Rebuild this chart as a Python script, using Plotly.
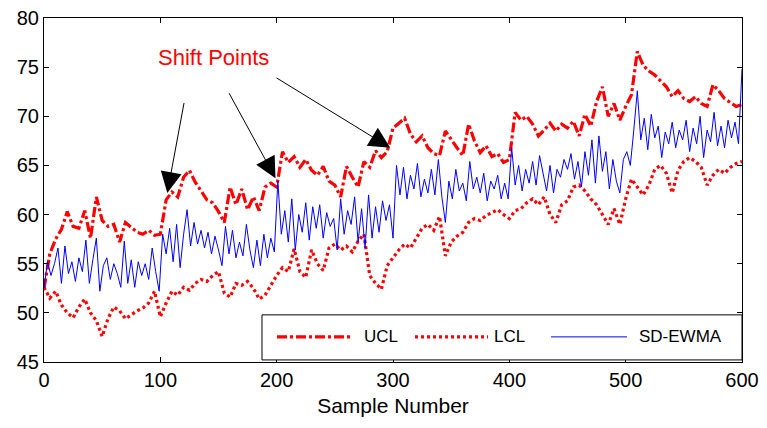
import plotly.graph_objects as go

# ---------------- data ----------------
ucl_step = 5
ucl = [
    52.5, 56.0, 57.5, 58.5, 60.3, 58.8, 58.6, 60.4, 57.6, 61.8,
    59.4, 58.8, 59.0, 57.2, 59.2, 58.7, 58.2, 58.0, 58.4, 57.9,
    58.0, 61.5, 62.3, 61.8, 63.8, 64.5, 63.3, 62.4, 61.5, 61.2,
    60.3, 59.2, 62.8, 61.0, 62.6, 60.5, 61.8, 60.4, 62.8, 63.2,
    62.8, 66.4, 65.3, 65.9, 64.8, 65.6, 64.5, 64.0, 64.9, 63.4,
    63.0, 61.8, 64.9, 63.8, 62.8, 65.4, 64.8, 66.5, 65.8, 66.4,
    68.8, 69.3, 69.8, 68.2, 67.4, 68.0, 66.8, 66.2, 66.0, 68.5,
    67.6, 66.8, 66.0, 69.2, 67.5, 66.3, 67.0, 65.9, 66.2, 65.3,
    65.6, 70.4, 69.6, 70.0, 69.2, 68.0, 68.6, 69.3, 68.5, 69.2,
    68.8, 69.5, 68.0, 70.2, 69.0, 71.5, 73.0, 70.0, 71.3, 69.6,
    71.0, 72.2, 76.6, 75.2, 74.6, 74.2, 73.6, 73.0, 72.0, 72.6,
    71.8, 71.5, 72.0, 71.3, 71.0, 73.2, 72.6, 71.8, 71.4, 71.0,
    71.2,
]

lcl_step = 5
lcl = [
    52.6, 51.5, 52.2, 50.8, 50.0, 49.5, 50.6, 51.4, 50.0, 49.2,
    47.6, 49.4, 50.6, 50.2, 49.4, 49.8, 50.2, 50.5, 51.0, 52.2,
    49.6, 51.0, 52.2, 51.8, 52.6, 52.3, 53.0, 53.4, 53.2, 53.8,
    54.2, 52.0, 51.6, 53.0, 52.8, 53.2, 52.5, 51.4, 51.8, 52.8,
    53.8, 54.6, 54.2, 56.5, 54.2, 53.6, 56.4, 55.0, 54.3, 56.6,
    57.0, 56.4, 56.8, 56.2, 57.3, 58.0, 53.8, 53.0, 52.4, 54.8,
    55.6, 56.4, 57.0, 56.6, 57.6, 58.6, 59.0, 58.4, 59.8, 55.8,
    57.2, 57.8, 58.2, 59.2, 59.6, 59.4, 59.9, 60.2, 60.5, 60.0,
    59.6, 60.4, 60.6, 61.2, 61.6, 61.0, 61.8, 60.0, 59.2, 61.0,
    61.4, 62.8, 63.0, 62.4, 61.6, 61.0, 60.0, 59.0, 60.6, 59.0,
    61.6, 63.6, 62.8, 62.0, 63.0, 64.6, 65.0, 64.2, 62.2, 64.5,
    65.4, 65.8, 65.4, 64.8, 63.0, 64.0, 64.6, 64.2, 64.8, 65.2,
    65.4,
]

ewma_step = 3
sd_ewma = [
    52.5, 55.2, 53.8, 55.0, 56.6, 53.0, 56.8, 54.0, 55.2, 53.2,
    55.6, 54.2, 57.4, 53.0, 55.4, 57.6, 52.2, 54.8, 55.6, 53.4,
    55.0, 54.0, 52.6, 57.3, 53.0, 55.4, 52.6, 55.2, 53.8, 55.0,
    53.4, 56.6, 54.2, 52.2, 58.0, 56.0, 58.6, 55.2, 59.0, 54.6,
    58.0, 60.5, 56.8, 59.2, 57.0, 58.4, 56.6, 58.2, 56.0, 57.8,
    56.4, 54.8, 58.8, 56.0, 58.4, 55.6, 57.2, 55.8, 59.0, 56.4,
    54.6, 57.4, 54.8, 58.0, 55.6, 57.6, 56.2, 63.4, 58.0, 60.4,
    57.2, 61.6, 56.4, 60.0, 58.2, 61.2, 57.4, 60.8, 58.6, 61.0,
    57.6, 60.2, 58.8, 59.6, 56.4, 61.6, 58.0, 60.4, 59.0, 61.8,
    57.2, 60.6, 56.6, 62.0, 57.6, 60.8, 58.2, 61.4, 59.4, 61.0,
    57.6, 65.0, 62.0, 64.8, 61.6, 64.0, 62.6, 65.2, 61.8, 63.6,
    62.2, 64.6, 62.0, 65.6, 61.8, 59.2, 63.4, 61.6, 64.6, 62.4,
    63.2, 61.4, 65.4, 62.6, 63.8, 62.2, 64.2, 61.4, 63.4, 62.6,
    64.0, 61.6, 63.2, 61.6, 66.8, 63.0, 65.0, 62.4, 64.6, 63.2,
    65.4, 63.0, 66.0, 64.2, 62.4, 65.0, 62.2, 64.6, 63.8, 65.6,
    64.6, 66.2, 63.6, 65.4, 62.8, 66.4, 64.0, 67.6, 63.2, 68.0,
    64.4, 66.4, 62.6, 65.6, 63.4, 62.2, 65.6, 66.4, 65.0, 68.6,
    72.6, 67.6, 69.8, 66.6, 70.2, 67.8, 69.0, 65.8, 68.4, 67.2,
    69.4, 66.8, 68.6, 67.6, 69.6, 66.4, 68.8, 67.2, 70.0, 65.8,
    68.6, 67.4, 70.4, 67.0, 69.0, 66.8, 69.6, 67.8, 69.4, 67.2,
    74.8,
]

x_ticks = [0, 100, 200, 300, 400, 500, 600]
y_ticks = [45, 50, 55, 60, 65, 70, 75, 80]
series_names = ["UCL", "LCL", "SD-EWMA"]

x_ucl = [i * ucl_step for i in range(len(ucl))]
x_lcl = [i * lcl_step for i in range(len(lcl))]
x_ewma = [i * ewma_step for i in range(len(sd_ewma))]

FONT = "Liberation Sans, Arial, sans-serif"
RED, BLUE = "#ff0000", "#0000ff"
UCL_DASH, LCL_DASH = "10px,3px,3px,3px", "3px,3px"

fig = go.Figure()
fig.add_trace(go.Scatter(x=x_ucl, y=ucl, mode="lines", name=series_names[0], showlegend=False,
                         line=dict(color=RED, width=3.2, dash=UCL_DASH)))
fig.add_trace(go.Scatter(x=x_lcl, y=lcl, mode="lines", name=series_names[1], showlegend=False,
                         line=dict(color=RED, width=3.2, dash=LCL_DASH)))
fig.add_trace(go.Scatter(x=x_ewma, y=sd_ewma, mode="lines", name=series_names[2], showlegend=False,
                         line=dict(color=BLUE, width=1)))

# "Shift Points" label and arrows pointing at the shifts on the UCL
fig.add_annotation(x=146, y=76, xref="x", yref="y", text="Shift Points",
                   showarrow=False, font=dict(family=FONT, size=22, color=RED))
tails = [(120.6, 71.5), (158.4, 72.5), (198.6, 74.0)]
tips_x = [106, 199, 297.6]
tips_y = [62.2, 63.7, 66.8]
for (tx, ty), hx, hy in zip(tails, tips_x, tips_y):
    fig.add_annotation(x=hx, y=hy, xref="x", yref="y", ax=tx, ay=ty,
                       axref="x", ayref="y", text="", showarrow=True,
                       arrowhead=2, arrowsize=4.2, arrowwidth=1,
                       arrowcolor="black")

# legend box drawn in the lower-right corner of the axes (MATLAB style)
fig.add_shape(type="rect", xref="paper", yref="paper", x0=0.3123, x1=1.0, y0=0.006, y1=0.137,
              line=dict(color="black", width=1), fillcolor="white", layer="above")
legend_styles = [dict(color=RED, width=3.2, dash=UCL_DASH),
                 dict(color=RED, width=3.2, dash=LCL_DASH),
                 dict(color=BLUE, width=1)]
sample_x = [(0.3338, 0.4384), (0.5315, 0.6361), (0.7264, 0.8352)]
label_x = [0.4556, 0.6418, 0.8496]
for name, style, (sx0, sx1), lx in zip(series_names, legend_styles, sample_x, label_x):
    fig.add_shape(type="line", xref="paper", yref="paper", x0=sx0, x1=sx1, y0=0.073, y1=0.073,
                  line=style, layer="above")
    fig.add_annotation(x=lx, y=0.073, xref="paper", yref="paper", text=name, showarrow=False,
                       xanchor="left", yanchor="middle",
                       font=dict(family=FONT, size=17, color="black"))

axis_common = dict(showline=True, linecolor="black", linewidth=1.2, mirror="ticks",
                   ticks="inside", ticklen=5, tickcolor="black", showgrid=False,
                   zeroline=False, tickfont=dict(family=FONT, size=20, color="black"))

fig.update_xaxes(range=[0, 600], tickvals=x_ticks, ticktext=[str(v) for v in x_ticks],
                 title=dict(text="Sample Number", font=dict(family=FONT, size=21, color="black"),
                            standoff=8),
                 **axis_common)
fig.update_yaxes(range=[45, 80], tickvals=y_ticks, ticktext=[str(v) for v in y_ticks],
                 **axis_common)

fig.update_layout(
    width=767, height=428,
    margin=dict(l=44, r=25, t=18, b=66, autoexpand=False),
    paper_bgcolor="white", plot_bgcolor="white",
    showlegend=False,
)

fig.write_html("out.html")
